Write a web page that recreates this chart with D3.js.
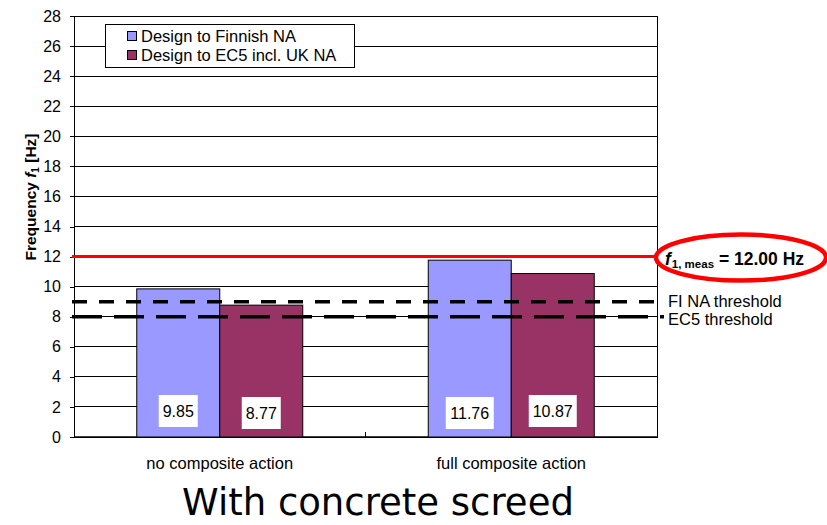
<!DOCTYPE html>
<html>
<head>
<meta charset="utf-8">
<script src="https://cdn.jsdelivr.net/npm/d3@7"></script>
<style>
  html, body { margin: 0; padding: 0; background: #fff; }
  svg { display: block; font-family: Arial, "Liberation Sans", sans-serif; }
</style>
</head>
<body>
<svg id="chart" width="827" height="525"></svg>
<script>
// Natural frequency of the floor, two design cases
const categories = ["no composite action", "full composite action"];
const seriesNames = ["Design to Finnish NA", "Design to EC5 incl. UK NA"];
const finnishNA = [9.85, 11.76];
const ec5UK = [8.77, 10.87];
const yTicks = [0, 2, 4, 6, 8, 10, 12, 14, 16, 18, 20, 22, 24, 26, 28];
const measured = 12.00;
const fiThreshold = 9;
const ec5Threshold = 8;
const colors = ["#9999FF", "#993366"];

const svg = d3.select("#chart");
const margin = { left: 74, right: 657, top: 16, bottom: 437 };

const x = d3.scaleBand().domain(categories).range([margin.left, margin.right]);
const xInner = d3.scaleBand().domain(seriesNames).range([0, 166]);
const y = d3.scaleLinear().domain([0, 28]).range([margin.bottom, margin.top]);

// gridlines
svg.append("g").selectAll("line").data(yTicks).join("line")
  .attr("x1", margin.left).attr("x2", margin.right)
  .attr("y1", d => y(d)).attr("y2", d => y(d))
  .attr("stroke", "#000").attr("stroke-width", 1).attr("shape-rendering", "crispEdges");

// plot border
svg.append("rect")
  .attr("x", margin.left).attr("y", margin.top)
  .attr("width", margin.right - margin.left).attr("height", margin.bottom - margin.top)
  .attr("fill", "none").attr("stroke", "#000").attr("stroke-width", 1).attr("shape-rendering", "crispEdges");

// y axis
const yAxis = d3.axisLeft(y).tickValues(yTicks).tickSize(4).tickPadding(9);
const gy = svg.append("g").attr("transform", `translate(${margin.left},0)`).call(yAxis);
gy.select(".domain").attr("stroke", "#000");
gy.selectAll("text").attr("font-size", 16).attr("fill", "#000")
  .attr("font-family", "Arial, 'Liberation Sans', sans-serif");
gy.selectAll(".tick line").attr("shape-rendering", "crispEdges");

// x axis with inward tick between categories
const gx = svg.append("g").attr("transform", `translate(0,${margin.bottom})`);
gx.append("line").attr("x1", margin.left).attr("x2", margin.right)
  .attr("stroke", "#000").attr("stroke-width", 1.5);
gx.selectAll("line.sep").data(categories.slice(1)).join("line").attr("class", "sep")
  .attr("x1", d => x(d)).attr("x2", d => x(d)).attr("y1", 0).attr("y2", -5)
  .attr("stroke", "#000");
gx.selectAll("text").data(categories).join("text")
  .attr("x", d => x(d) + x.bandwidth() / 2).attr("y", 32)
  .attr("text-anchor", "middle").attr("font-size", 16.5).text(d => d);

// bars
const rows = categories.map((c, i) => ({ cat: c, values: [finnishNA[i], ec5UK[i]] }));
const groups = svg.append("g").selectAll("g").data(rows).join("g")
  .attr("transform", d => `translate(${x(d.cat) + x.bandwidth() / 2 - 83},0)`);
groups.selectAll("rect").data(d => d.values.map((v, j) => ({ v, s: seriesNames[j], j }))).join("rect")
  .attr("x", d => xInner(d.s)).attr("width", xInner.bandwidth())
  .attr("y", d => y(d.v)).attr("height", d => y(0) - y(d.v))
  .attr("fill", d => colors[d.j]).attr("stroke", "#000").attr("stroke-width", 1);

// value labels in white boxes
const labelOffsets = [[0, 2], [2, 0]];
groups.each(function (d, gi) {
  const g = d3.select(this);
  d.values.forEach((v, j) => {
    const txt = v.toFixed(2);
    const w = txt.length > 4 ? 48 : 39;
    const cx = xInner(seriesNames[j]) + xInner.bandwidth() / 2;
    const cy = 411 + labelOffsets[gi][j];
    g.append("rect").attr("x", cx - w / 2).attr("y", cy - 16).attr("width", w).attr("height", 32)
      .attr("fill", "#fff");
    g.append("text").attr("x", cx).attr("y", cy + 6).attr("text-anchor", "middle")
      .attr("font-size", 16).text(txt);
  });
});

// threshold lines
svg.append("line").attr("x1", 72).attr("x2", 664)
  .attr("y1", y(fiThreshold)).attr("y2", y(fiThreshold))
  .attr("stroke", "#000").attr("stroke-width", 3.5).attr("stroke-dasharray", "15,12");
svg.append("line").attr("x1", 72).attr("x2", 664)
  .attr("y1", y(ec5Threshold)).attr("y2", y(ec5Threshold))
  .attr("stroke", "#000").attr("stroke-width", 3.5).attr("stroke-dasharray", "30,12");
svg.append("text").attr("x", 668).attr("y", y(fiThreshold) + 5).attr("font-size", 16.5).text("FI NA threshold");
svg.append("text").attr("x", 668).attr("y", y(ec5Threshold) + 8).attr("font-size", 16.5).text("EC5 threshold");

// measured frequency
svg.append("line").attr("x1", 72).attr("x2", 657)
  .attr("y1", y(measured)).attr("y2", y(measured))
  .attr("stroke", "#FF0000").attr("stroke-width", 3);
svg.append("ellipse").attr("cx", 741).attr("cy", y(measured) + 1).attr("rx", 85).attr("ry", 23)
  .attr("fill", "none").attr("stroke", "#FF0000").attr("stroke-width", 4.5);
const mt = svg.append("text").attr("x", 665).attr("y", y(measured) + 8)
  .attr("font-size", 17.5).attr("font-weight", "bold");
mt.append("tspan").attr("font-style", "italic").text("f");
mt.append("tspan").attr("font-size", 11.5).attr("dx", 1).attr("dy", 3).text("1, meas");
mt.append("tspan").attr("dy", -3).text(" = " + measured.toFixed(2) + " Hz");

// y axis title
const yt = svg.append("text").attr("transform", "translate(36,197) rotate(-90)")
  .attr("text-anchor", "middle").attr("font-size", 15.5).attr("font-weight", "bold");
yt.append("tspan").text("Frequency ");
yt.append("tspan").attr("font-style", "italic").text("f");
yt.append("tspan").attr("font-size", 10).attr("dy", 3).text("1");
yt.append("tspan").attr("dy", -3).text(" [Hz]");

// legend
const lg = svg.append("g");
lg.append("rect").attr("x", 105.5).attr("y", 24.5).attr("width", 249).attr("height", 43)
  .attr("fill", "#fff").attr("stroke", "#000").attr("stroke-width", 1);
seriesNames.forEach((s, i) => {
  const yy = 36 + i * 19;
  lg.append("rect").attr("x", 127.5).attr("y", yy - 4.5).attr("width", 9).attr("height", 9)
    .attr("fill", colors[i]).attr("stroke", "#000").attr("stroke-width", 1);
  lg.append("text").attr("x", 141).attr("y", yy + 6).attr("font-size", 16.5).text(s);
});

// caption
svg.append("text").attr("x", 378).attr("y", 515).attr("text-anchor", "middle")
  .attr("font-family", "Verdana, 'DejaVu Sans', sans-serif").attr("font-size", 37)
  .text("With concrete screed");
</script>
</body>
</html>
